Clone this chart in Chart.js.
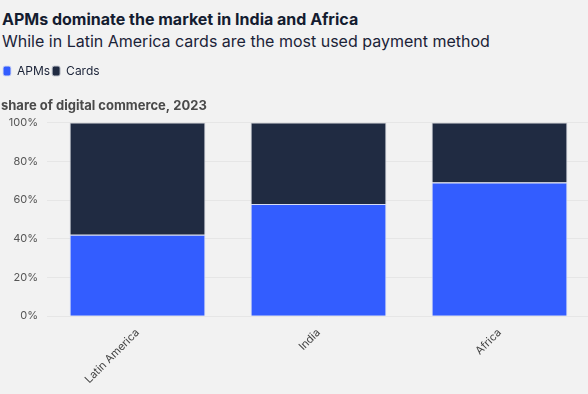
<!DOCTYPE html>
<html>
<head>
<meta charset="utf-8">
<script src="https://cdn.jsdelivr.net/npm/chart.js@4"></script>
<style>
    html, body { margin: 0; padding: 0; background: #f2f2f2; }
    body { width: 588px; height: 394px; position: relative; overflow: hidden; font-family: Inter, sans-serif; }
    .head { position: absolute; left: 2px; top: 8px; color: #141c30; }
    .head h1 { margin: 0; font-size: 16px; font-weight: 700; line-height: 22px; }
    .head h2 { margin: 0; font-size: 16px; font-weight: 400; line-height: 22px; color: #1b2338; }
    .wrap { position: absolute; left: 0; top: 63px; width: 590px; height: 325px; }
</style>
</head>
<body>
<div class="head">
    <h1>APMs dominate the market in India and Africa</h1>
    <h2>While in Latin America cards are the most used payment method</h2>
</div>
<div class="wrap"><canvas id="chart"></canvas></div>
<script>
// --- DATI ---
const regions = ['Latin America', 'India', 'Africa'];
const apms = [42, 58, 69];
const cards = [58, 42, 31];
const yTicks = [0, 20, 40, 60, 80, 100];

const ctx = document.getElementById('chart');
new Chart(ctx, {
    type: 'bar',
    data: {
        labels: regions,
        datasets: [
            { label: 'APMs', data: apms, backgroundColor: '#335dff', borderColor: '#d6dcf4', borderWidth: 1 },
            { label: 'Cards', data: cards, backgroundColor: '#202b42', borderColor: '#c4c8d0', borderWidth: 1 }
        ]
    },
    options: {
        responsive: true,
        maintainAspectRatio: false,
        animation: false,
        layout: { padding: { left: 1, right: 0, top: 0, bottom: 0 } },
        datasets: { bar: { categoryPercentage: 1, barPercentage: 0.75 } },
        plugins: {
            legend: {
                position: 'top',
                align: 'start',
                labels: {
                    boxWidth: 8,
                    boxHeight: 10,
                    padding: 2,
                    useBorderRadius: true,
                    borderRadius: 2,
                    color: '#1b2338',
                    font: { family: 'Inter', size: 12 }
                }
            },
            title: {
                display: true,
                text: 'share of digital commerce, 2023',
                align: 'start',
                weight: 500,
                color: '#4a4a4a',
                font: { family: 'Inter', size: 13, weight: 'bold' },
                padding: { top: 11, bottom: 9 }
            },
            tooltip: { enabled: false }
        },
        scales: {
            x: {
                stacked: true,
                grid: { display: false },
                border: { display: false },
                ticks: {
                    minRotation: 45,
                    maxRotation: 45,
                    color: '#444',
                    font: { family: 'Inter', size: 11 },
                    padding: 2
                }
            },
            y: {
                stacked: true,
                min: 0,
                max: 100,
                afterBuildTicks: (scale) => { scale.ticks = yTicks.map(v => ({ value: v })); },
                afterFit: (scale) => { scale.width = 46; },
                grid: { color: '#e6e6e6', drawTicks: false },
                border: { display: false },
                ticks: {
                    padding: 9,
                    color: '#555',
                    font: { family: 'Inter', size: 11 },
                    callback: (v) => v + '%'
                }
            }
        }
    }
});
</script>
</body>
</html>
